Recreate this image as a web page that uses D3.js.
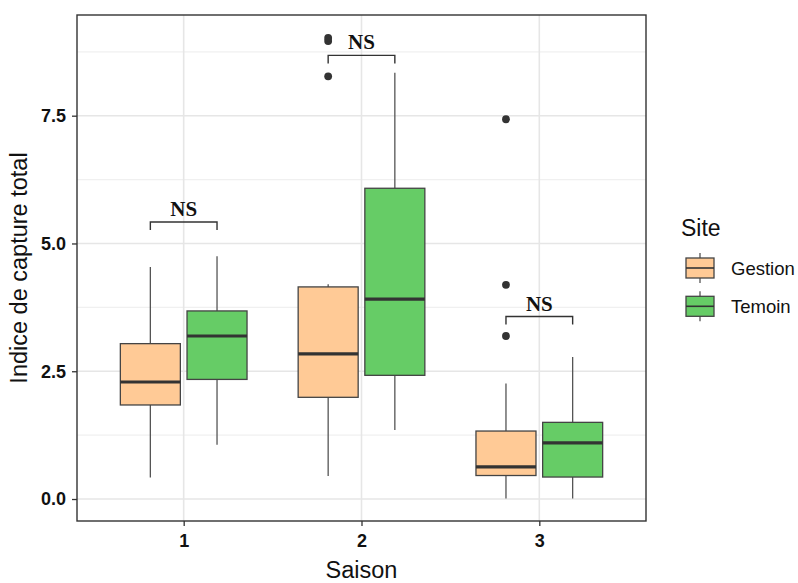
<!DOCTYPE html>
<html><head><meta charset="utf-8">
<script src="https://cdn.jsdelivr.net/npm/d3@7"></script>
<style>body{margin:0;background:#fff}</style></head>
<body><svg id="c" width="798" height="583"></svg>
<script>
const seasons = ["1","2","3"];
const sites = ["Gestion","Temoin"];
const colors = ["#FFCA96","#66CC66"];
// [lowerWhisker, q1, median, q3, upperWhisker] per season, per site
const gestionStats = [[0.42,1.84,2.29,3.04,4.54],[0.45,1.99,2.84,4.15,4.2],[0.01,0.46,0.63,1.33,2.26]];
const temoinStats  = [[1.06,2.34,3.19,3.68,4.75],[1.35,2.42,3.91,6.08,8.34],[0.01,0.43,1.1,1.5,2.78]];
const gestionOutliers = [[],[8.27,8.96,9.02],[3.19,4.19,7.43]];
const temoinOutliers = [[],[],[]];
const bracketY = [5.42,8.68,3.57];
const bracketLabel = ["NS","NS","NS"];
const yTicks = [0,2.5,5,7.5];

const svg = d3.select("#c");
const L=77,T=15,R=646,B=521;
const x = d3.scaleLinear().domain([0.4,3.6]).range([L,R]);
const y = d3.scaleLinear().domain([-0.43,9.47]).range([B,T]);
const SANS = "Liberation Sans, Arial, sans-serif";
const g = svg.append("g");
g.append("rect").attr("x",L).attr("y",T).attr("width",R-L).attr("height",B-T).attr("fill","#fff");
// grid
const minor = [1.25,3.75,6.25,8.75];
minor.forEach(v=>g.append("line").attr("x1",L).attr("x2",R).attr("y1",y(v)).attr("y2",y(v)).attr("stroke","#f0f0f0").attr("stroke-width",1.2));
yTicks.forEach(v=>g.append("line").attr("x1",L).attr("x2",R).attr("y1",y(v)).attr("y2",y(v)).attr("stroke","#e6e6e6").attr("stroke-width",1.6));
seasons.forEach((s,i)=>g.append("line").attr("x1",x(i+1)).attr("x2",x(i+1)).attr("y1",T).attr("y2",B).attr("stroke","#e6e6e6").attr("stroke-width",1.6));

const stats=[gestionStats,temoinStats], outs=[gestionOutliers,temoinOutliers];
const bw = x(0.3375)-x(0);
sites.forEach((site,k)=>{
  seasons.forEach((s,i)=>{
    const cx = x(i+1+(k===0?-0.1875:0.1875));
    const [lw,q1,md,q3,uw]=stats[k][i];
    g.append("line").attr("x1",cx).attr("x2",cx).attr("y1",y(uw)).attr("y2",y(q3)).attr("stroke","#555").attr("stroke-width",1.3);
    g.append("line").attr("x1",cx).attr("x2",cx).attr("y1",y(q1)).attr("y2",y(lw)).attr("stroke","#555").attr("stroke-width",1.3);
    g.append("rect").attr("x",cx-bw/2).attr("y",y(q3)).attr("width",bw).attr("height",y(q1)-y(q3))
      .attr("fill",colors[k]).attr("stroke","#444").attr("stroke-width",1.3);
    g.append("line").attr("x1",cx-bw/2).attr("x2",cx+bw/2).attr("y1",y(md)).attr("y2",y(md)).attr("stroke","#333").attr("stroke-width",3.2);
    outs[k][i].forEach(v=>g.append("circle").attr("cx",cx).attr("cy",y(v)).attr("r",3.9).attr("fill","#333"));
  });
});
// brackets
seasons.forEach((s,i)=>{
  const x1=x(i+1-0.1875), x2=x(i+1+0.1875), yy=y(bracketY[i]);
  g.append("path").attr("d",`M${x1},${yy+8}V${yy}H${x2}V${yy+8}`).attr("fill","none").attr("stroke","#333").attr("stroke-width",1.4);
  g.append("text").attr("x",x(i+1)).attr("y",yy-6).attr("text-anchor","middle")
    .attr("font-family","Liberation Serif, Times New Roman, serif").attr("font-weight","bold").attr("font-size",21).attr("fill","#111").text(bracketLabel[i]);
});
g.append("rect").attr("x",L).attr("y",T).attr("width",R-L).attr("height",B-T).attr("fill","none").attr("stroke","#333").attr("stroke-width",1.4);

// axes
const ya = svg.append("g").attr("transform",`translate(${L},0)`).call(d3.axisLeft(y).tickValues(yTicks).tickFormat(d3.format(".1f")).tickSize(5).tickPadding(6));
const xa = svg.append("g").attr("transform",`translate(0,${B})`).call(d3.axisBottom(x).tickValues([1,2,3]).tickFormat((d,i)=>seasons[i]).tickSize(5).tickPadding(8));
[ya,xa].forEach(a=>{a.select(".domain").remove();a.selectAll("line").attr("stroke","#333").attr("stroke-width",1.3);
  a.selectAll("text").style("font-family",SANS).style("font-weight","bold").style("font-size","18px").attr("fill","#111");});

svg.append("text").attr("x",(L+R)/2).attr("y",578).attr("text-anchor","middle").style("font-family",SANS).style("font-size","23.5px").attr("fill","#111").text("Saison");
svg.append("text").attr("transform",`translate(27,${(T+B)/2}) rotate(-90)`).attr("text-anchor","middle").style("font-family",SANS).style("font-size","23.5px").attr("fill","#111").text("Indice de capture total");

// legend
svg.append("text").attr("x",681).attr("y",236).style("font-family",SANS).style("font-size","23px").attr("fill","#111").text("Site");
sites.forEach((site,k)=>{
  const top = 258 + k*38.3, cx=700;
  const lg = svg.append("g");
  lg.append("line").attr("x1",cx).attr("x2",cx).attr("y1",top-5).attr("y2",top+25).attr("stroke","#555").attr("stroke-width",1.3);
  lg.append("rect").attr("x",686).attr("y",top).attr("width",28).attr("height",20).attr("fill",colors[k]).attr("stroke","#444").attr("stroke-width",1.3);
  lg.append("line").attr("x1",686).attr("x2",714).attr("y1",top+10).attr("y2",top+10).attr("stroke","#333").attr("stroke-width",1.6);
  lg.append("text").attr("x",731).attr("y",top+16.5).style("font-family",SANS).style("font-size","18.5px").attr("fill","#111").text(site);
});
</script></body></html>
